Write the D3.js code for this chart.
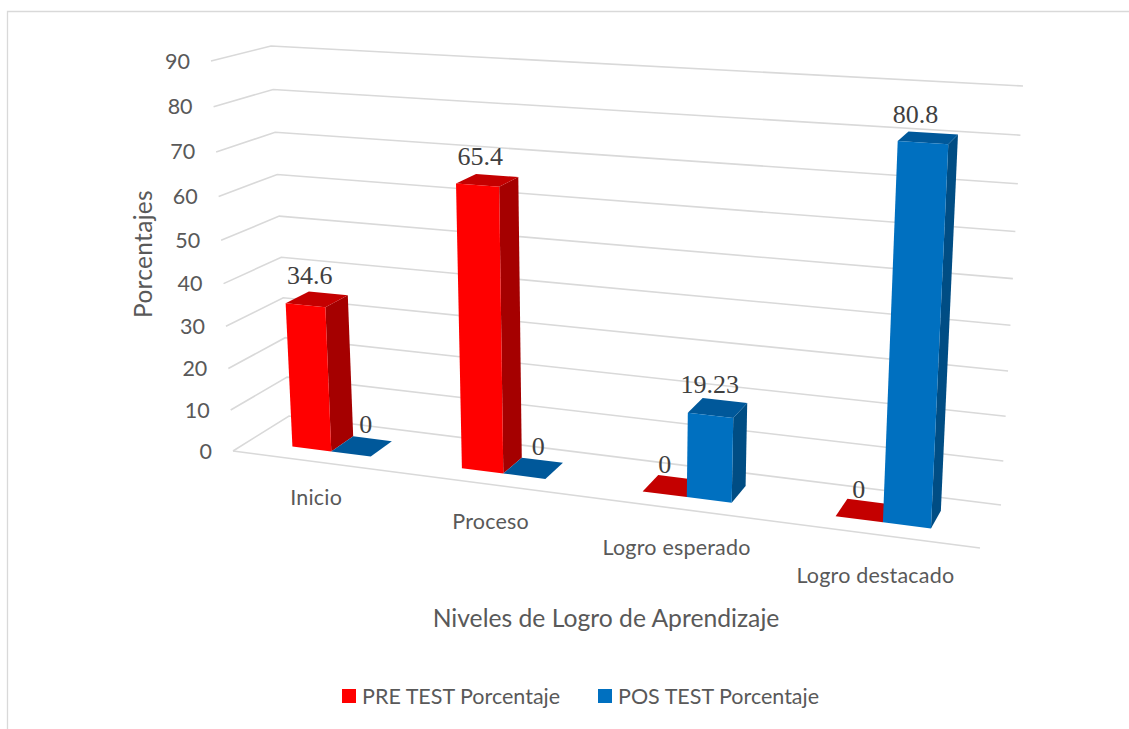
<!DOCTYPE html>
<html><head><meta charset="utf-8">
<script src="https://cdn.jsdelivr.net/npm/d3@7"></script>
<style>html,body{margin:0;padding:0;background:#fff;overflow:hidden}svg{display:block}</style>
</head><body><svg id="c" width="1129" height="729"></svg>
<script>
const categories = ["Inicio","Proceso","Logro esperado","Logro destacado"];
const preTest = [34.6,65.4,0,0];
const posTest = [0,0,19.23,80.8];
const seriesNames = ["PRE TEST Porcentaje","POS TEST Porcentaje"];
const tickValues = [0,10,20,30,40,50,60,70,80,90];
const xTitle = "Niveles de Logro de Aprendizaje";
const yTitle = "Porcentajes";

const svg = d3.select("#c");
const grid="#D9D9D9", txt="#595959";
const sans="Lato, Carlito, Calibri, sans-serif", serif="'Liberation Serif', serif";

// perspective frame: corners of the plot box (value 0 / value 90)
const FL0=[233,451], BL0=[289,416], BR0=[1001,505], FR0=[980,548];
const FL1=[211,61],  BL1=[271,46],  BR1=[1023,86],  FR1=[1003,107];
const warp=k=>t=>t/(t+k*(1-t));
const uW=warp(1.14), vW=warp(1.064);
const vS=d3.scaleLinear().domain([0,90]).range([0,1]);
const xBand=d3.scaleBand().domain(categories).range([0,1]).paddingInner(0.53).paddingOuter(0.265);
const sBand=d3.scaleBand().domain([0,1]).range([0,xBand.bandwidth()]);
const lerp=(a,b,t)=>a+(b-a)*t;
const lp=(A,B,t)=>[lerp(A[0],B[0],t),lerp(A[1],B[1],t)];
// u: 0..1 along the category axis, d: 0..1 depth, v: data value
function P(u,d,v){
  const U=uW(u), V=vW(vS(v));
  const lo=lp(lp(FL0,FR0,U),lp(BL0,BR0,U),d);
  const hi=lp(lp(FL1,FR1,U),lp(BL1,BR1,U),d);
  return lp(lo,hi,V);
}
const line=d3.line();
const poly=pts=>line(pts)+"Z";

// gridlines
const gG=svg.append("g").attr("fill","none").attr("stroke",grid).attr("stroke-width",1.6);
tickValues.forEach(v=>{
  gG.append("path").attr("d",line([P(0,0,v),P(0,1,v),P(1,1,v)]));
});
gG.append("path").attr("d",line([P(0,0,0),P(1,0,0)]));

// frame of the chart area
svg.append("path").attr("d",line([[7.5,729],[7.5,11.5],[1129,11.5]])).attr("fill","none").attr("stroke",grid).attr("stroke-width",1.3);

// bars
const D0=0.29, D1=0.71;
const colours=[{front:"#FF0000",side:"#A50000",top:"#C40000"},{front:"#0070C0",side:"#004D84",top:"#00589A"}];
const series=[preTest,posTest];
// label nudges relative to the centre of each bar's top face (layout only)
const labelNudge=[[-7,-7,-7.5,-6],[4,5,-8,-12.5]];
const gB=svg.append("g");
const labels=[];
categories.forEach((c,i)=>{
  series.forEach((vals,s)=>{
    const v=vals[i], col=colours[s];
    const a=xBand(c)+sBand(s), b=a+sBand.bandwidth();
    if(v>0){
      gB.append("path").attr("fill",col.side).attr("d",poly([P(b,D0,0),P(b,D1,0),P(b,D1,v),P(b,D0,v)]));
      gB.append("path").attr("fill",col.top).attr("d",poly([P(a,D0,v),P(b,D0,v),P(b,D1,v),P(a,D1,v)]));
      gB.append("path").attr("fill",col.front).attr("d",poly([P(a,D0,0),P(b,D0,0),P(b,D0,v),P(a,D0,v)]));
    } else {
      gB.append("path").attr("fill",col.top).attr("d",poly([P(a,D0,0),P(b,D0,0),P(b,D1,0),P(a,D1,0)]));
    }
    const top=P((a+b)/2,0.5,v);
    labels.push({v,x:top[0]+labelNudge[s][i],y:top[1]-(v>0?24:22)});
  });
});

// value labels
svg.append("g").selectAll("text").data(labels).join("text")
  .attr("x",d=>d.x).attr("y",d=>d.y).attr("dy","0.35em").attr("text-anchor","middle")
  .attr("font-family",serif).attr("font-size",26).attr("fill","#404040").text(d=>String(d.v));

// value axis labels
svg.append("g").selectAll("text").data(tickValues).join("text")
  .attr("x",d=>P(0,0,d)[0]-21).attr("y",d=>P(0,0,d)[1]).attr("dy","0.35em").attr("text-anchor","end")
  .attr("font-family",sans).attr("font-size",21.5).attr("fill",txt).text(d=>d);

// category labels
svg.append("g").selectAll("text").data(categories).join("text")
  .attr("x",c=>P(xBand(c)+xBand.bandwidth()/2,0,0)[0])
  .attr("y",c=>{const u=xBand(c)+xBand.bandwidth()/2;return P(u,0,0)[1]+35+7*uW(u);})
  .attr("dy","0.35em").attr("text-anchor","middle")
  .attr("font-family",sans).attr("font-size",21.5).attr("letter-spacing",0.2).attr("fill",txt).text(c=>c);

// titles
svg.append("text").attr("x",606).attr("y",618).attr("dy","0.35em").attr("text-anchor","middle")
  .attr("font-family",sans).attr("font-size",24.7).attr("fill",txt).text(xTitle);
svg.append("text").attr("transform","translate(143,254) rotate(-90)").attr("dy","0.35em").attr("text-anchor","middle")
  .attr("font-family",sans).attr("font-size",24.5).attr("letter-spacing",0.3).attr("fill",txt).text(yTitle);

// legend
const legX=[342,598];
const gL=svg.append("g");
seriesNames.forEach((n,i)=>{
  gL.append("rect").attr("x",legX[i]).attr("y",689).attr("width",14).attr("height",14).attr("fill",colours[i].front);
  gL.append("text").attr("x",legX[i]+20).attr("y",696).attr("dy","0.35em")
    .attr("font-family",sans).attr("font-size",21.5).attr("fill",txt).text(n);
});
</script></body></html>
